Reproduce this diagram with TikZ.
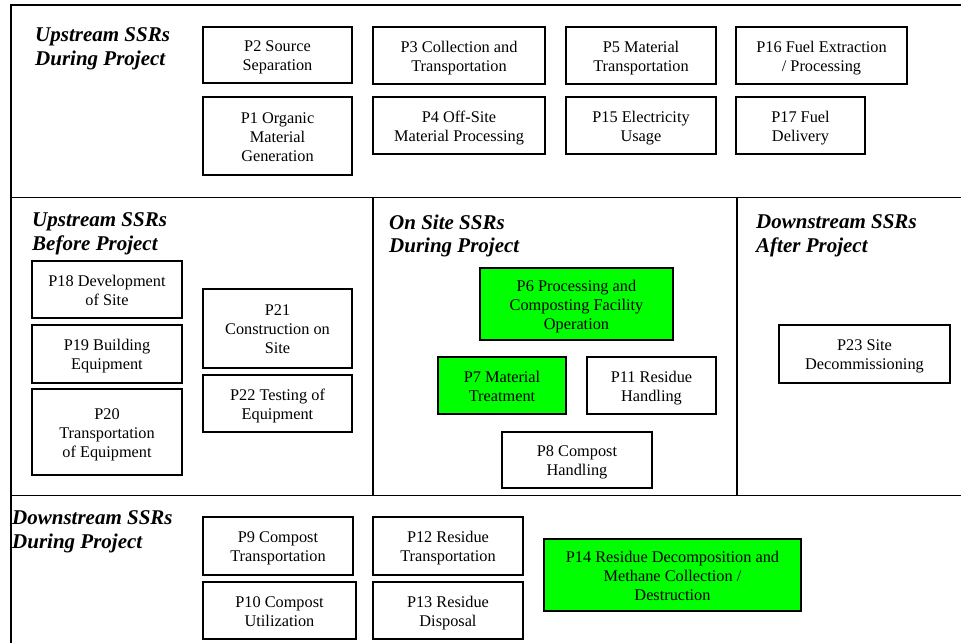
\documentclass[tikz,border=0pt]{standalone}
\usepackage{fontspec}
\setmainfont{Liberation Serif}
\definecolor{boxgreen}{RGB}{0,255,0}
\newcommand\tstr{\rule{0pt}{16pt}}
\newcommand\bstr{\rule[-4pt]{0pt}{0pt}}
\begin{document}
\begin{tikzpicture}[x=1pt,y=-1pt,
  box/.style={draw, line width=1.4pt, inner sep=0pt, align=center, font=\fontsize{16.3}{19}\selectfont},
  gbox/.style={box, fill=boxgreen},
  hdr/.style={anchor=north west, inner sep=0pt, align=left, font=\fontsize{21}{23.5}\selectfont\bfseries\itshape},
  frame/.style={line width=1.8pt}]
\useasboundingbox (0,0) rectangle (961,643);
% frame
\draw[frame] (961,5) -- (11,5) -- (11,643);
\draw[frame] (11,197.5) -- (961,197.5);
\draw[frame] (11,495.5) -- (961,495.5);
\draw[frame] (373,197.5) -- (373,495.5);
\draw[frame] (737,197.5) -- (737,495.5);
% headers
\node[hdr] (h1) at (35,27.5) {Upstream SSRs\\During Project};
\node[hdr] (h2) at (32,212.5) {Upstream SSRs\\Before Project};
\node[hdr] (h3) at (389,214.5) {On Site SSRs\\During Project};
\node[hdr] (h4) at (756,214.5) {Downstream SSRs\\After Project};
\node[hdr] (h5) at (12,510.5) {Downstream SSRs\\During Project};
% top section
\node[box, minimum width=149pt, minimum height=56pt] (p2) at (277.5,55) {\tstr P2 Source\\Separation\bstr};
\node[box, minimum width=149pt, minimum height=78pt] (p1) at (277.5,136) {\tstr P1 Organic\\Material\\Generation\bstr};
\node[box, minimum width=172pt, minimum height=57pt] (p3) at (459,55.5) {\tstr P3 Collection and\\Transportation\bstr};
\node[box, minimum width=172pt, minimum height=57pt] (p4) at (459,125.5) {\tstr P4 Off-Site\\Material Processing\bstr};
\node[box, minimum width=150pt, minimum height=57pt] (p5) at (641,55.5) {\tstr P5 Material\\Transportation\bstr};
\node[box, minimum width=150pt, minimum height=57pt] (p15) at (641,125.5) {\tstr P15 Electricity\\Usage\bstr};
\node[box, minimum width=171pt, minimum height=57pt] (p16) at (821.5,55.5) {\tstr P16 Fuel Extraction\\/ Processing\bstr};
\node[box, minimum width=129pt, minimum height=57pt] (p17) at (800.5,125.5) {\tstr P17 Fuel\\Delivery\bstr};
% upstream before
\node[box, minimum width=150pt, minimum height=57pt] (p18) at (107,289.5) {\tstr P18 Development\\of Site\bstr};
\node[box, minimum width=150pt, minimum height=58pt] (p19) at (107,354) {\tstr P19 Building\\Equipment\bstr};
\node[box, minimum width=150pt, minimum height=86pt] (p20) at (107,432) {\tstr P20\\Transportation\\of Equipment\bstr};
\node[box, minimum width=149pt, minimum height=79pt] (p21) at (277.5,328.5) {\tstr P21\\Construction on\\Site\bstr};
\node[box, minimum width=149pt, minimum height=57pt] (p22) at (277.5,403.5) {\tstr P22 Testing of\\Equipment\bstr};
% on site
\node[gbox, minimum width=193pt, minimum height=72pt] (p6) at (576.5,304) {\tstr P6 Processing and\\Composting Facility\\Operation\bstr};
\node[gbox, minimum width=128pt, minimum height=57pt] (p7) at (502,385.5) {\tstr P7 Material\\Treatment\bstr};
\node[box, minimum width=129pt, minimum height=57pt] (p11) at (651.5,385.5) {\tstr P11 Residue\\Handling\bstr};
\node[box, minimum width=150pt, minimum height=56pt] (p8) at (577,460) {\tstr P8 Compost\\Handling\bstr};
% downstream after
\node[box, minimum width=171pt, minimum height=58pt] (p23) at (864.5,354) {\tstr P23 Site\\Decommissioning\bstr};
% downstream during
\node[box, minimum width=150pt, minimum height=58pt] (p9) at (278,546) {\tstr P9 Compost\\Transportation\bstr};
\node[box, minimum width=153pt, minimum height=57pt] (p10) at (279.5,610.5) {\tstr P10 Compost\\Utilization\bstr};
\node[box, minimum width=150pt, minimum height=58pt] (p12) at (448,546) {\tstr P12 Residue\\Transportation\bstr};
\node[box, minimum width=150pt, minimum height=57pt] (p13) at (448,610.5) {\tstr P13 Residue\\Disposal\bstr};
\node[gbox, minimum width=257pt, minimum height=72pt] (p14) at (672.5,575) {\tstr P14 Residue Decomposition and\\Methane Collection /\\Destruction\bstr};
\end{tikzpicture}
\end{document}
